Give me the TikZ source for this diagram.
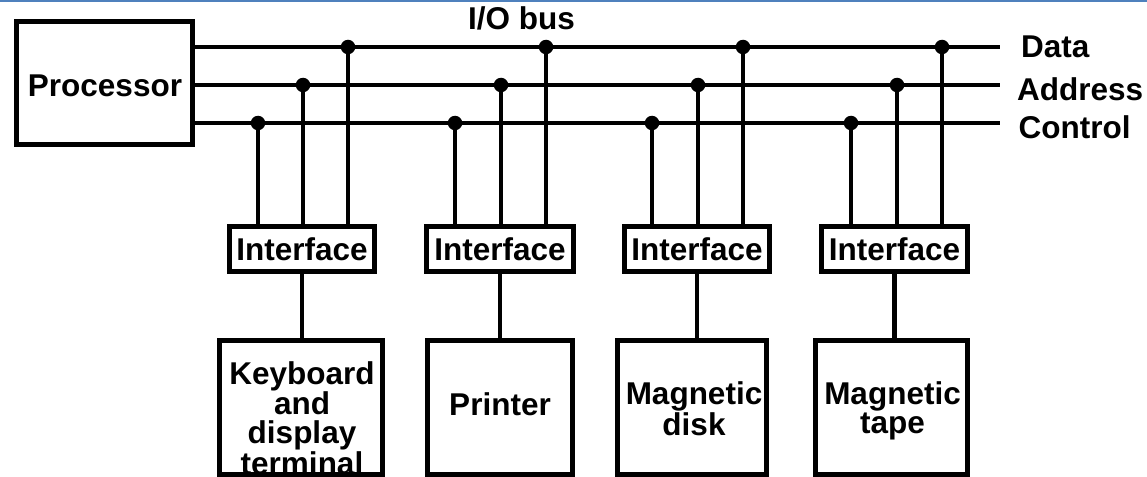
\documentclass[tikz,border=0pt]{standalone}
\usepackage{fontspec}
\setmainfont{Liberation Sans}
\definecolor{topblue}{RGB}{79,129,189}
\begin{document}
\begin{tikzpicture}[x=1pt,y=-1pt,
  box/.style={draw, line width=5pt, inner sep=0pt, fill=white},
  lbl/.style={font=\bfseries\fontsize{31.5}{29}\selectfont, inner sep=0pt, align=center},
  ifbox/.style={box, lbl, minimum height=45pt},
  devbox/.style={box, minimum height=133.5pt},
  bus/.style={line width=4.5pt},
  tap/.style={line width=4.5pt},
  dot/.style={circle, fill=black, inner sep=0pt, minimum size=14.5pt}]
\fill[white] (0,0) rectangle (1147,476);
\useasboundingbox (0,0) rectangle (1147,476);
\fill[topblue] (0,0) rectangle (1147,2.5);

% processor
\node[box, minimum width=176.5pt, minimum height=122pt] (proc) at (104.25,83) {};
\node[lbl] (proclbl) at (105,86) {Processor};

% bus ends
\coordinate (dE) at (1000,47);
\coordinate (aE) at (1000,85);
\coordinate (cE) at (1000,123);
\draw[bus] (proc.east |- dE) -- (dE);
\draw[bus] (proc.east |- aE) -- (aE);
\draw[bus] (proc.east |- cE) -- (cE);

\node[lbl, anchor=base west] (iolbl) at (468,30) {I/O bus};
\node[lbl, anchor=base west] (datalbl) at (1021,57.5) {Data};
\node[lbl, anchor=base west] (addrlbl) at (1017,100) {Address};
\node[lbl, anchor=base west] (ctrllbl) at (1018.5,138) {Control};

% interfaces
\node[ifbox, minimum width=145pt] (if1) at (302,249) {Interface};
\node[ifbox, minimum width=147pt] (if2) at (500,249) {Interface};
\node[ifbox, minimum width=145pt] (if3) at (697,249) {Interface};
\node[ifbox, minimum width=146pt] (if4) at (894.5,249) {Interface};

% devices
\node[devbox, minimum width=163pt] (kb) at (301,407.25) {};
\node[devbox, minimum width=145pt] (pr) at (500,407.25) {};
\node[devbox, minimum width=149pt] (md) at (692,407.25) {};
\node[devbox, minimum width=152pt] (mt) at (891.5,407.25) {};

\node[lbl, anchor=north] (kblbl) at (302,361.5) {Keyboard\\and\\display\\terminal};
\node[lbl, anchor=base] (prlbl) at (500,415) {Printer};
\node[lbl, anchor=north] (mdlbl) at (694,381.5) {Magnetic\\disk};
\node[lbl, anchor=north] (mtlbl) at (892.5,381.5) {Magnetic\\tape};

% taps
\foreach \i/\xc/\xa/\xd in {1/258/303/348, 2/455/501/546, 3/652/698/743, 4/851/897/942}{
  \coordinate (c\i) at (\xc,123);
  \coordinate (a\i) at (\xa,85);
  \coordinate (d\i) at (\xd,47);
  \draw[tap] (c\i) -- (c\i |- if\i.north);
  \draw[tap] (a\i) -- (a\i |- if\i.north);
  \draw[tap] (d\i) -- (d\i |- if\i.north);
  \node[dot] (c\i dot) at (c\i) {};
  \node[dot] (a\i dot) at (a\i) {};
  \node[dot] (d\i dot) at (d\i) {};
}

% interface to device
\draw[tap] (if1.south) -- (if1.south |- kb.north);
\draw[tap] (if2.south) -- (if2.south |- pr.north);
\draw[tap] (if3.south) -- (if3.south |- md.north);
\draw[tap] (if4.south) -- (if4.south |- mt.north);
\end{tikzpicture}
\end{document}
